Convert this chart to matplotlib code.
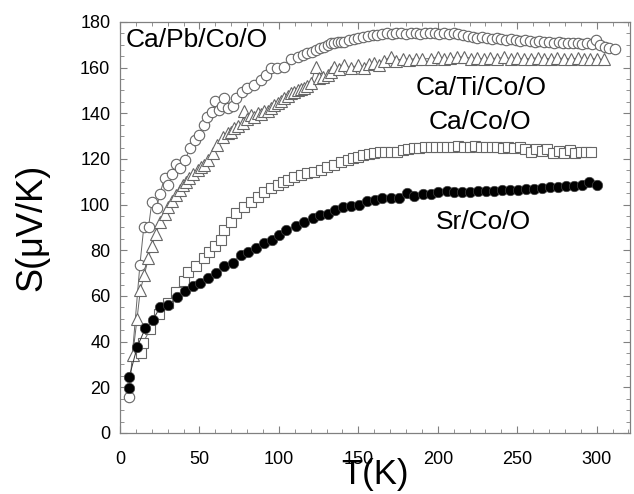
import matplotlib
matplotlib.use("Agg")
import matplotlib.pyplot as plt
from matplotlib.ticker import MultipleLocator

plt.rcParams['font.family'] = ['Liberation Sans', 'DejaVu Sans']

# Ca/Pb/Co/O  (open circles)
t_pb = [5.5, 12.5, 15, 18, 20, 23, 25, 28, 30, 33,
        35, 38, 41, 44, 47, 50, 53, 55, 58, 59.5,
        62.5, 64, 65.5, 68, 71, 73, 77, 80, 84.5, 88.5,
        92, 95, 99, 103, 107.5, 112, 115, 118, 121, 123.5,
        126, 128.5, 131, 133, 135, 137, 139, 141, 144, 147,
        150, 153, 156, 159, 162, 165, 168, 171, 174, 177,
        180, 183, 186, 189, 192, 195, 198, 201, 204, 207,
        210, 213, 216, 219, 222, 225, 228, 231, 234, 237,
        240, 243, 246, 249, 252, 255, 258, 261, 264, 267,
        270, 273, 276, 279, 282, 285, 288, 291, 294, 297,
        299.5, 302, 305, 308, 311.5]
s_pb = [15.6, 73.5, 90.4, 90.4, 101, 98.5, 104.5, 111.6, 108.8, 113.5,
        117.7, 115.9, 119.6, 124.7, 128.3, 130.5, 134.9, 138.5, 140.5, 145.2,
        141.5, 143, 146.6, 142.5, 143, 146.6, 149.5, 151, 152.4, 154.6,
        156.8, 159.7, 159.7, 160.4, 164, 164.8, 165.5, 166.2, 166.8, 167.8,
        168.5, 169.2, 170, 170.7, 171, 171.4, 171.2, 171.4, 172.1, 172.5,
        173, 173.5, 174, 174.3, 174.5, 174.8, 175, 174.6, 175, 175.2,
        174.8, 175, 175.3, 174.8, 175, 175, 175.2, 174.6, 175, 174.8,
        175, 174.6, 174.2, 173.8, 173.6, 173.2, 173.5, 173, 172.6, 172.8,
        172.4, 172.1, 172.4, 172, 171.8, 172, 171.6, 171.4, 171.6, 171.2,
        171.4, 171, 171.2, 170.8, 171, 170.7, 170.9, 170.5, 170.8, 170.4,
        172.1, 169.8, 169.2, 168.5, 168]

# Ca/Ti/Co/O  (open triangles)
t_ti = [8, 10.7, 12.8, 15.3, 17.8, 20, 22.5, 25.4, 28, 30,
        32.5, 35.2, 37.5, 39.4, 41.5, 43.6, 46, 48.8, 51, 53,
        55.5, 58.3, 61, 64.6, 67.7, 70, 71.9, 74.5, 77.2, 77.8,
        80, 82.4, 84.5, 86.6, 88.7, 90.8, 93, 95, 97, 99.2,
        101.2, 103.3, 105.5, 107.5, 109.6, 111.8, 113.9, 115.9, 118, 120.1,
        123.3, 125.4, 128, 130.6, 132.7, 134.8, 138, 141, 145.3, 149.5,
        153.7, 157, 160, 163, 166, 170.4, 174, 178, 182, 186,
        190, 195.6, 200, 204, 208, 212, 216.5, 221, 225, 229,
        233, 237.5, 242, 246, 250, 254, 258.5, 263, 267, 271,
        275, 279.5, 284, 288, 292, 296, 300, 304.6]
s_ti = [34.2, 50, 62.6, 69.2, 76.5, 81.9, 87, 92.5, 96, 99.1,
        101.5, 104.2, 106.5, 108.6, 110, 111.6, 113.5, 115.2, 116.5, 117.4,
        119.5, 122.5, 126.1, 129.8, 131.3, 131.8, 133.4, 134.5, 135.6, 140.8,
        137.5, 139.3, 138.6, 140, 139.5, 140.8, 141, 142.2, 143.5, 144.5,
        145.5, 146.6, 147.5, 148.8, 149.2, 150.2, 150.5, 151, 152, 153.1,
        160.4, 155.3, 156, 156.8, 158.3, 160.4, 159.5, 161.2, 159.7, 161.2,
        159.7, 161.5, 162, 161, 163, 164.8, 163, 164, 163.5, 164,
        163.8, 164, 164.5, 163.8, 164.2, 164.5, 164.8, 164, 164.2, 163.8,
        164.2, 164, 164.5, 163.9, 164.2, 163.8, 164, 164.3, 163.9, 164,
        164.2, 164, 163.8, 164.1, 163.9, 164, 163.7, 163.6]

# Ca/Co/O  (open squares)
t_ca = [13, 14.3, 19, 24.3, 30, 35.2, 40, 42.6, 47.8, 52.6,
        55.8, 59.7, 63.5, 65.6, 69.8, 73, 78.2, 82.4, 86.6, 90.8,
        95, 99.2, 102.5, 105.5, 109.6, 114, 118, 122, 126.4, 130.5,
        134.8, 139, 143.2, 146.5, 149.5, 153, 156.5, 160, 163.5, 167,
        170.5, 174.6, 178, 181.5, 185, 188.5, 192, 195.6, 199, 202.5,
        206, 209.5, 213, 216.5, 220, 223.5, 227, 230.5, 234, 237.5,
        241, 244.5, 248, 251.5, 255, 258.5, 262, 265.5, 269, 272.5,
        276, 279.5, 283, 286.5, 290, 293, 296.2]
s_ca = [34.9, 39.3, 45.4, 52, 56.8, 61.9, 66.7, 70.7, 73.1, 76.5,
        79.4, 82, 84.5, 88.9, 92.5, 96.2, 99.1, 101.3, 103.5, 105.7,
        107.2, 108.6, 109.8, 110.8, 112.3, 113, 113.7, 114.5, 115.2, 116.3,
        117.4, 118.5, 119.6, 120.3, 121, 121.6, 122.2, 122.6, 122.9, 123,
        123.2, 123.2, 123.8, 124.2, 124.8, 125, 125.2, 125.4, 125.1, 125.3,
        125.4, 125.2, 125.5, 125.4, 125.2, 125.5, 125.3, 125.4, 125.2, 125.4,
        125, 125.3, 124.8, 125.2, 124.5, 123.2, 124.5, 123.5, 124.3, 122.8,
        123.5, 122.5, 124, 122.6, 123.2, 123.1, 123.2]

# Sr/Co/O  (filled circles)
t_sr = [5.9, 5.9, 10.7, 16, 20.8, 25.4, 30.4, 35.6, 40.7, 45.7,
        50.5, 55.6, 60.6, 65.6, 70.9, 76.1, 80.7, 85.5, 90.8, 95.5,
        100, 104.4, 110.7, 115.9, 121.2, 126, 130.6, 135.4, 140.4, 145.3,
        150.5, 155.3, 160.4, 165.2, 170.4, 175.7, 180.5, 185.1, 190.4, 195.6,
        200.4, 205.5, 210.3, 215.5, 220.5, 225.5, 230.5, 235.5, 240.5, 245.5,
        250.5, 255.5, 260.5, 265.5, 270.5, 275.5, 280.5, 285.5, 290.5, 295.2,
        300.4]
s_sr = [19.6, 24.7, 37.5, 46, 49.6, 55.3, 56, 59.4, 62.3, 64.4,
        65.6, 68, 70, 73.3, 74.6, 78, 79.1, 81, 83, 84.5,
        86.5, 88.9, 90.7, 92.3, 94, 95.5, 95.8, 97.7, 98.8, 99.4,
        99.9, 101.6, 102, 102.8, 103, 103, 105, 104, 104.5, 104.5,
        105.4, 106.1, 105.7, 105.7, 105.6, 106, 106, 106.1, 106.3, 106.5,
        106.5, 106.7, 107, 107.3, 107.8, 107.7, 108, 108.2, 108.5, 110,
        108.5]

fig = plt.figure(figsize=(6.34, 4.94), dpi=100)
ax = fig.add_axes([0.1893, 0.1235, 0.8044, 0.832])

grey = '#666666'
ax.plot(t_pb, s_pb, '-o', color=grey, lw=0.7, ms=7.5, mfc='white', mec=grey, mew=0.8)
ax.plot(t_ti, s_ti, '-^', color=grey, lw=0.7, ms=8.5, mfc='white', mec=grey, mew=0.8)
ax.plot(t_ca, s_ca, '-s', color=grey, lw=0.7, ms=6.5, mfc='white', mec=grey, mew=0.8)
ax.plot(t_sr, s_sr, '-o', color='#333333', lw=0.7, ms=7.5, mfc='black', mec='#444444', mew=0.5)

ax.text(3.5, 172, 'Ca/Pb/Co/O', fontsize=19, va='center', ha='left')
ax.text(186, 151, 'Ca/Ti/Co/O', fontsize=19, va='center', ha='left')
ax.text(194, 136, 'Ca/Co/O', fontsize=19, va='center', ha='left')
ax.text(199, 92.5, 'Sr/Co/O', fontsize=19, va='center', ha='left')

ax.set_xlim(0, 321)
ax.set_ylim(0, 180)
ax.xaxis.set_major_locator(MultipleLocator(50))
ax.xaxis.set_minor_locator(MultipleLocator(10))
ax.yaxis.set_major_locator(MultipleLocator(20))
ax.yaxis.set_minor_locator(MultipleLocator(5))

ax.tick_params(which='both', direction='in', top=True, right=True, color='#808080', labelsize=13)
ax.tick_params(which='major', length=5, width=0.8)
ax.tick_params(which='minor', length=3, width=0.6)
ax.tick_params(axis='x', pad=13)
ax.tick_params(axis='y', pad=7)
for sp in ax.spines.values():
    sp.set_color('#808080')
    sp.set_linewidth(0.9)

ax.set_xlabel('T(K)', fontsize=25, labelpad=-7)
ax.set_ylabel('S(μV/K)', fontsize=26, labelpad=22)

fig.savefig('out.png', dpi=100)
